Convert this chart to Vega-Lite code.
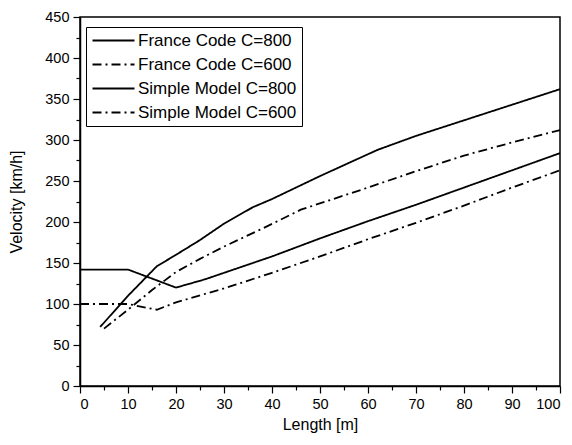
{
  "$schema": "https://vega.github.io/schema/vega-lite/v6.json",
  "autosize": {"type": "none"},
  "width": 480,
  "height": 369,
  "padding": {"left": 80, "top": 17, "right": 12, "bottom": 59},
  "background": "white",
  "config": {
    "font": "Liberation Sans",
    "view": {"stroke": "black", "strokeWidth": 1.5},
    "axis": {"domainColor": "black", "domainWidth": 1.5, "tickColor": "black", "tickWidth": 1.2, "labelColor": "black", "titleColor": "black", "grid": false, "labelFontSize": 14.5, "titleFontSize": 16, "titleFontWeight": "normal", "labelPadding": 4}
  },
  "data": {"values": [
    {"series": "France Code C=800", "x": 4.2, "y": 72},
    {"series": "France Code C=800", "x": 10, "y": 110},
    {"series": "France Code C=800", "x": 16, "y": 146},
    {"series": "France Code C=800", "x": 20, "y": 160},
    {"series": "France Code C=800", "x": 25, "y": 178},
    {"series": "France Code C=800", "x": 30, "y": 198},
    {"series": "France Code C=800", "x": 36, "y": 218},
    {"series": "France Code C=800", "x": 40, "y": 228},
    {"series": "France Code C=800", "x": 50, "y": 256},
    {"series": "France Code C=800", "x": 62, "y": 288},
    {"series": "France Code C=800", "x": 70, "y": 305},
    {"series": "France Code C=800", "x": 80, "y": 324},
    {"series": "France Code C=800", "x": 90, "y": 343},
    {"series": "France Code C=800", "x": 100, "y": 362},
    {"series": "France Code C=600", "x": 5, "y": 70},
    {"series": "France Code C=600", "x": 10, "y": 93},
    {"series": "France Code C=600", "x": 15, "y": 117},
    {"series": "France Code C=600", "x": 20, "y": 139},
    {"series": "France Code C=600", "x": 25, "y": 155},
    {"series": "France Code C=600", "x": 30, "y": 170},
    {"series": "France Code C=600", "x": 38, "y": 192},
    {"series": "France Code C=600", "x": 46, "y": 215},
    {"series": "France Code C=600", "x": 60, "y": 242},
    {"series": "France Code C=600", "x": 70, "y": 262},
    {"series": "France Code C=600", "x": 80, "y": 281},
    {"series": "France Code C=600", "x": 90, "y": 297},
    {"series": "France Code C=600", "x": 100, "y": 312},
    {"series": "Simple Model C=800", "x": 0, "y": 142},
    {"series": "Simple Model C=800", "x": 10, "y": 142},
    {"series": "Simple Model C=800", "x": 20, "y": 120},
    {"series": "Simple Model C=800", "x": 26, "y": 130},
    {"series": "Simple Model C=800", "x": 40, "y": 158},
    {"series": "Simple Model C=800", "x": 50, "y": 180},
    {"series": "Simple Model C=800", "x": 60, "y": 201},
    {"series": "Simple Model C=800", "x": 70, "y": 221},
    {"series": "Simple Model C=800", "x": 80, "y": 242},
    {"series": "Simple Model C=800", "x": 90, "y": 263},
    {"series": "Simple Model C=800", "x": 100, "y": 284},
    {"series": "Simple Model C=600", "x": 0, "y": 100},
    {"series": "Simple Model C=600", "x": 10, "y": 100},
    {"series": "Simple Model C=600", "x": 16, "y": 93},
    {"series": "Simple Model C=600", "x": 20, "y": 102},
    {"series": "Simple Model C=600", "x": 30, "y": 119},
    {"series": "Simple Model C=600", "x": 40, "y": 138},
    {"series": "Simple Model C=600", "x": 50, "y": 158},
    {"series": "Simple Model C=600", "x": 60, "y": 179},
    {"series": "Simple Model C=600", "x": 70, "y": 199},
    {"series": "Simple Model C=600", "x": 80, "y": 220},
    {"series": "Simple Model C=600", "x": 90, "y": 242},
    {"series": "Simple Model C=600", "x": 100, "y": 263}
  ]},
  "mark": {"type": "line", "color": "black", "strokeWidth": 1.8},
  "encoding": {
    "x": {"field": "x", "type": "quantitative", "scale": {"domain": [0, 100], "nice": false},
      "axis": {"title": "Length [m]", "values": [0,5,10,15,20,25,30,35,40,45,50,55,60,65,70,75,80,85,90,95,100],
        "labelExpr": "datum.value % 10 === 0 ? datum.label : ''",
        "tickSize": {"condition": {"test": "datum.value % 10 !== 0", "value": 4}, "value": 7},
        "titlePadding": 6}},
    "y": {"field": "y", "type": "quantitative", "scale": {"domain": [0, 450], "nice": false},
      "axis": {"title": "Velocity [km/h]", "values": [0,25,50,75,100,125,150,175,200,225,250,275,300,325,350,375,400,425,450],
        "labelExpr": "datum.value % 50 === 0 ? datum.label : ''",
        "tickSize": {"condition": {"test": "datum.value % 50 !== 0", "value": 4}, "value": 7},
        "titlePadding": 20}},
    "detail": {"field": "series"},
    "strokeDash": {"field": "series", "type": "nominal",
      "scale": {"domain": ["France Code C=800", "France Code C=600", "Simple Model C=800", "Simple Model C=600"],
        "range": [[1, 0], [9, 4, 2, 4], [1, 0], [9, 4, 2, 4]]},
      "legend": {"title": null, "orient": "none", "legendX": 6, "legendY": 10, "strokeColor": "black", "padding": 5,
        "labelFontSize": 17, "labelColor": "black", "symbolType": "M-1,0H5", "symbolSize": 196, "symbolStrokeWidth": 1.8, "symbolStrokeColor": "black", "labelOffset": 30, "rowPadding": 6, "fillColor": "white"}}
  }
}
